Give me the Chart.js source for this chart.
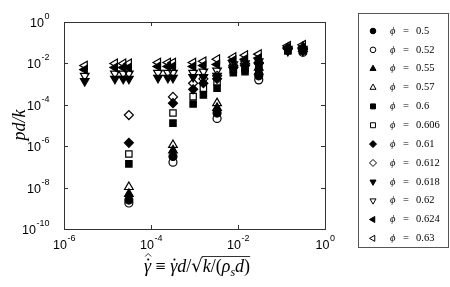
<!DOCTYPE html>
<html>
<head>
<meta charset="utf-8">
<script src="https://cdn.jsdelivr.net/npm/chart.js@4.4.1/dist/chart.umd.min.js"></script>
<style>
  html, body { margin: 0; padding: 0; background: #fff; }
</style>
</head>
<body>
<canvas id="chart" width="450" height="287"></canvas>
<script>
// legend labels
var phiValues = ['0.5', '0.52', '0.55', '0.57', '0.6', '0.606', '0.61', '0.612', '0.618', '0.62', '0.624', '0.63'];
var xTickValues = [1e-6, 1e-4, 1e-2, 1];
var yTickValues = [1, 1e-2, 1e-4, 1e-6, 1e-8, 1e-10];

// shear rates (x) for each group of packing fractions
var rateLow = [3.1e-5, 3.2e-4, 3.3e-3, 3.0e-2, 0.31];
var rateMid = [3.1e-5, 3.2e-4, 9.3e-4, 1.6e-3, 3.3e-3, 7.8e-3, 1.45e-2, 3.0e-2, 0.14, 0.31];
var rateHigh = [3.0e-6, 1.48e-5, 2.3e-5, 3.1e-5, 1.45e-4, 2.45e-4, 3.2e-4, 9.3e-4, 1.6e-3, 3.3e-3, 7.8e-3, 1.45e-2, 3.0e-2, 0.14, 0.31];

// pressure pd/k (y)
var p050 = [2.5e-9, 3.2e-7, 4.0e-5, 2.5e-3, 4.5e-2];
var p052 = [1.8e-9, 1.7e-7, 2.2e-5, 1.6e-3, 3.5e-2];
var p055 = [5.0e-9, 6.3e-7, 7.1e-5, 4.0e-3, 5.0e-2];
var p057 = [1.07e-8, 1.15e-6, 1.2e-4, 6.3e-3, 6.3e-2];
var p0600 = [1.4e-7, 1.3e-5, 1.1e-4, 3.0e-4, 6.3e-4, 3.5e-3, 4.0e-3, 5.0e-3, 4.0e-2, 4.0e-2];
var p0606 = [4.2e-7, 4.0e-5, 2.5e-4, 6.3e-4, 1.26e-3, 5.0e-3, 5.6e-3, 7.1e-3, 4.5e-2, 4.5e-2];
var p0610 = [1.45e-6, 1.2e-4, 5.6e-4, 1.1e-3, 1.8e-3, 6.3e-3, 7.9e-3, 1.0e-2, 5.0e-2, 5.0e-2];
var p0612 = [3.2e-5, 2.4e-4, 1.1e-3, 1.8e-3, 2.5e-3, 7.9e-3, 1.0e-2, 1.1e-2, 5.6e-2, 5.6e-2];
var p0618 = [1.4e-3, 1.8e-3, 1.8e-3, 1.8e-3, 2.0e-3, 2.0e-3, 2.0e-3, 2.2e-3, 2.2e-3, 2.5e-3, 5.0e-3, 6.3e-3, 7.9e-3, 4.0e-2, 4.0e-2];
var p0620 = [2.5e-3, 3.2e-3, 3.2e-3, 3.2e-3, 3.5e-3, 3.5e-3, 3.5e-3, 3.5e-3, 4.0e-3, 4.5e-3, 8.9e-3, 1.0e-2, 1.26e-2, 5.0e-2, 5.0e-2];
var p0624 = [5.0e-3, 6.3e-3, 6.3e-3, 6.3e-3, 7.1e-3, 7.1e-3, 7.1e-3, 7.1e-3, 7.9e-3, 8.9e-3, 1.4e-2, 1.6e-2, 1.8e-2, 5.6e-2, 5.6e-2];
var p0630 = [7.9e-3, 1.0e-2, 1.0e-2, 1.0e-2, 1.1e-2, 1.1e-2, 1.1e-2, 1.1e-2, 1.26e-2, 1.6e-2, 2.0e-2, 2.5e-2, 2.8e-2, 7.1e-2, 7.9e-2];

var seriesX = [rateLow, rateLow, rateLow, rateLow, rateMid, rateMid, rateMid, rateMid, rateHigh, rateHigh, rateHigh, rateHigh];
var seriesY = [p050, p052, p055, p057, p0600, p0606, p0610, p0612, p0618, p0620, p0624, p0630];

// marker: [pointStyle, filled, rotation, radius]
var markers = [
  ['circle', true, 0, 4], ['circle', false, 0, 4],
  ['triangle', true, 0, 5], ['triangle', false, 0, 5],
  ['rect', true, 0, 4.5], ['rect', false, 0, 4.5],
  ['rectRot', true, 0, 4.5], ['rectRot', false, 0, 4.5],
  ['triangle', true, 180, 5], ['triangle', false, 180, 5],
  ['triangle', true, -90, 5], ['triangle', false, -90, 5]
];

var datasets = phiValues.map(function (phi, i) {
  var m = markers[i];
  return {
    label: 'ϕ = ' + phi,
    data: seriesX[i].map(function (x, j) { return { x: x, y: seriesY[i][j] }; }),
    pointStyle: m[0],
    pointRotation: m[2],
    pointRadius: m[3],
    pointHoverRadius: m[3],
    pointBorderWidth: 1.2,
    borderColor: '#000',
    backgroundColor: m[1] ? '#000' : 'rgba(0,0,0,0)',
    showLine: false,
    order: 12 - i
  };
});

var SANS = '"Liberation Sans", Arial, sans-serif';
var SERIF = '"Liberation Serif", serif';

function drawPow(ctx, exp, x, y, align) {
  ctx.font = '12.5px ' + SANS;
  var w1 = ctx.measureText('10').width;
  ctx.font = '9px ' + SANS;
  var w2 = ctx.measureText(exp).width;
  var start = align === 'center' ? x - (w1 + w2) / 2 : x - (w1 + w2);
  ctx.textAlign = 'left';
  ctx.textBaseline = 'alphabetic';
  ctx.font = '12.5px ' + SANS;
  ctx.fillText('10', start, y);
  ctx.font = '9px ' + SANS;
  ctx.fillText(exp, start + w1 + 0.5, y - 8);
}

var framePlugin = {
  id: 'frame',
  afterDraw: function (chart) {
    var ctx = chart.ctx;
    var a = chart.chartArea;
    var xs = chart.scales.x, ys = chart.scales.y;
    ctx.save();
    ctx.strokeStyle = '#333';
    ctx.fillStyle = '#000';
    ctx.lineWidth = 1;
    ctx.strokeRect(Math.round(a.left) + 0.5, Math.round(a.top) + 0.5, Math.round(a.right - a.left), Math.round(a.bottom - a.top));
    ctx.beginPath();
    xTickValues.forEach(function (v) {
      var px = Math.round(xs.getPixelForValue(v)) + 0.5;
      ctx.moveTo(px, a.bottom); ctx.lineTo(px, a.bottom - 4);
      ctx.moveTo(px, a.top); ctx.lineTo(px, a.top + 4);
    });
    yTickValues.forEach(function (v) {
      var py = Math.round(ys.getPixelForValue(v)) + 0.5;
      ctx.moveTo(a.left, py); ctx.lineTo(a.left + 4, py);
      ctx.moveTo(a.right, py); ctx.lineTo(a.right - 4, py);
    });
    ctx.stroke();

    xTickValues.forEach(function (v) {
      drawPow(ctx, String(Math.round(Math.log10(v))), xs.getPixelForValue(v), a.bottom + 20, 'center');
    });
    yTickValues.forEach(function (v) {
      drawPow(ctx, String(Math.round(Math.log10(v))), a.left - 15, ys.getPixelForValue(v) + 5, 'right');
    });

    // y title
    ctx.save();
    ctx.translate(20, 125);
    ctx.rotate(-Math.PI / 2);
    ctx.font = 'italic 18px ' + SERIF;
    ctx.textAlign = 'center';
    ctx.textBaseline = 'middle';
    ctx.fillText('pd/k', 0, 0);
    ctx.restore();

    // x title: gamma-hat-dot = gamma-dot d / sqrt(k/(rho_s d))
    var F = '18px ' + SERIF, FI = 'italic 18px ' + SERIF;
    var parts = [
      [FI, 'γ', 0, 'hatdot'],
      [F, ' ≡ ', 0, ''],
      [FI, 'γ', 0, 'dot'],
      [FI, 'd', 0, ''],
      [F, '/', 0, ''],
      ['18px "DejaVu Serif", serif', '√', 0, ''],
      [FI, 'k', 0, ''],
      [F, '/(', 0, ''],
      [FI, 'ρ', 0, ''],
      ['italic 12px ' + SERIF, 's', 4, ''],
      [FI, 'd', 0, ''],
      [F, ')', 0, '']
    ];
    var total = 0;
    parts.forEach(function (p) { ctx.font = p[0]; p.push(ctx.measureText(p[1]).width); total += p[4]; });
    var cx = 197 - total / 2, base = 272, barStart = 0;
    ctx.textAlign = 'left';
    ctx.textBaseline = 'alphabetic';
    ctx.lineWidth = 1;
    parts.forEach(function (p, i) {
      ctx.font = p[0];
      ctx.fillText(p[1], cx, base + p[2]);
      var mid = cx + p[4] * 0.6;
      if (p[3] === 'dot' || p[3] === 'hatdot') {
        ctx.beginPath();
        ctx.arc(mid, base - 12.5, 1.1, 0, Math.PI * 2);
        ctx.fill();
      }
      if (p[3] === 'hatdot') {
        ctx.beginPath();
        ctx.moveTo(mid - 3, base - 15.5);
        ctx.lineTo(mid, base - 18.5);
        ctx.lineTo(mid + 3, base - 15.5);
        ctx.stroke();
      }
      if (i === 6) barStart = cx;
      cx += p[4];
    });
    ctx.beginPath();
    ctx.moveTo(barStart - 1, base - 15.5);
    ctx.lineTo(cx, base - 15.5);
    ctx.stroke();

    // legend
    var lx = 358, ly = 13, lw = 90, lh = 234;
    ctx.strokeStyle = '#555';
    ctx.fillStyle = '#fff';
    ctx.fillRect(lx + 0.5, ly + 0.5, lw, lh);
    ctx.strokeRect(lx + 0.5, ly + 0.5, lw, lh);
    chart.data.datasets.forEach(function (ds, i) {
      var y = 31 + i * 18.85;
      ctx.strokeStyle = '#000';
      ctx.fillStyle = ds.backgroundColor;
      ctx.lineWidth = 1;
      Chart.helpers.drawPoint(ctx, {
        pointStyle: ds.pointStyle,
        rotation: ds.pointRotation,
        radius: ds.pointStyle === 'circle' ? 2.8 : 3.5,
        borderWidth: 1
      }, 373, y);
      ctx.fillStyle = '#000';
      ctx.textBaseline = 'middle';
      ctx.textAlign = 'left';
      ctx.font = 'italic 10.5px ' + SERIF;
      ctx.fillText('ϕ', 390, y);
      ctx.font = '10.5px ' + SERIF;
      ctx.fillText('=', 403, y);
      ctx.fillText(phiValues[i], 416, y);
    });
    ctx.restore();
  }
};

new Chart(document.getElementById('chart'), {
  type: 'scatter',
  data: { datasets: datasets },
  options: {
    responsive: false,
    animation: false,
    devicePixelRatio: 1,
    layout: { padding: { top: 22, right: 125, left: 0, bottom: 0 } },
    plugins: { legend: { display: false }, tooltip: { enabled: false } },
    scales: {
      x: {
        type: 'logarithmic', min: 1e-6, max: 1,
        ticks: { display: false },
        grid: { display: false },
        border: { display: false },
        afterFit: function (s) { s.height = 58; }
      },
      y: {
        type: 'logarithmic', min: 1e-10, max: 1,
        ticks: { display: false },
        grid: { display: false },
        border: { display: false },
        afterFit: function (s) { s.width = 64; }
      }
    }
  },
  plugins: [framePlugin]
});
</script>
</body>
</html>
